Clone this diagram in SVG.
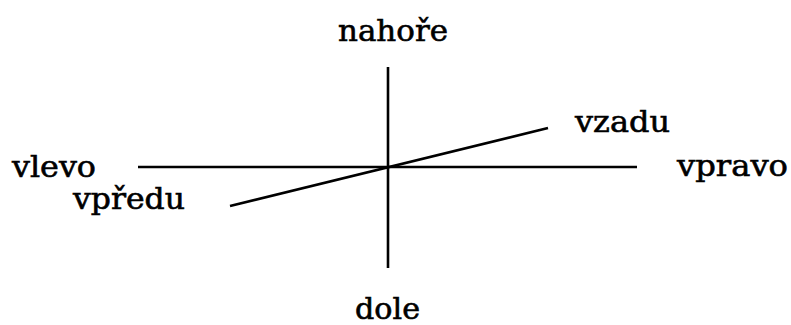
<svg xmlns="http://www.w3.org/2000/svg" width="791" height="325" viewBox="0 0 791 325">
<style>
.lbl{font-family:"DejaVu Serif","Liberation Serif",serif;font-size:29px;fill:#000;stroke:#000;stroke-width:0.6}
.ax{stroke:#000;stroke-width:2.6;fill:none;stroke-linecap:butt}
</style>
<rect width="791" height="325" fill="#fff"/>
<g id="connectors">
<line class="ax" x1="388" y1="67" x2="388" y2="268"/>
<line class="ax" x1="138" y1="167" x2="637" y2="167"/>
<line class="ax" x1="230" y1="206" x2="548" y2="128"/>
</g>
<g id="nahore"><text class="lbl" x="338" y="41" textLength="110" lengthAdjust="spacingAndGlyphs">nahoře</text></g>
<g id="vlevo"><text class="lbl" x="12" y="177" textLength="84" lengthAdjust="spacingAndGlyphs">vlevo</text></g>
<g id="vpredu"><text class="lbl" x="73" y="209" textLength="112" lengthAdjust="spacingAndGlyphs">vpředu</text></g>
<g id="vzadu"><text class="lbl" x="575" y="132" textLength="95" lengthAdjust="spacingAndGlyphs">vzadu</text></g>
<g id="vpravo"><text class="lbl" x="677" y="176" textLength="111" lengthAdjust="spacingAndGlyphs">vpravo</text></g>
<g id="dole"><text class="lbl" x="355" y="319" textLength="65" lengthAdjust="spacingAndGlyphs">dole</text></g>
</svg>
